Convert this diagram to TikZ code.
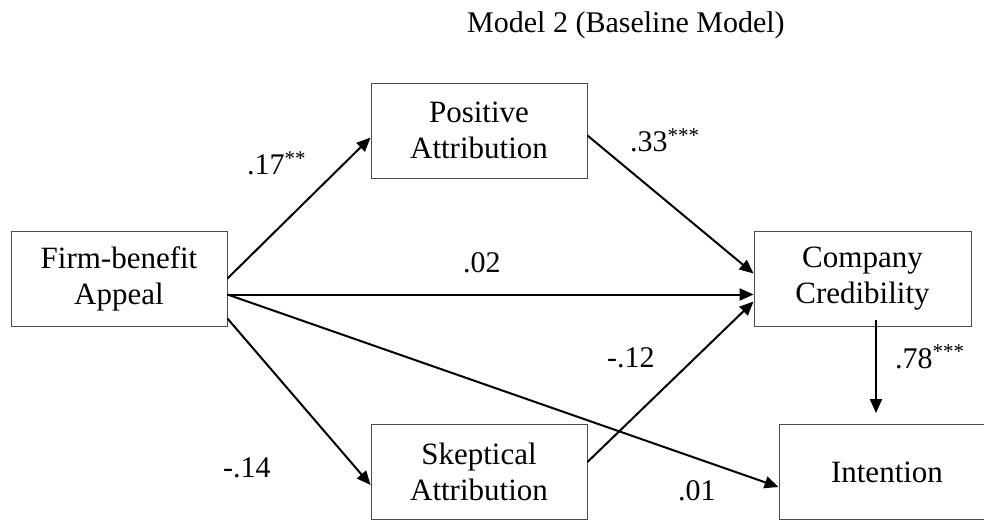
\documentclass[tikz,border=0pt]{standalone}
\usepackage{fontspec}
\setmainfont{Liberation Serif}
\usetikzlibrary{arrows.meta}
\tikzset{
  varbox/.style={draw=black!70, line width=0.9pt, minimum width=216pt, minimum height=95pt,
    inner sep=0pt, align=center, font=\fontsize{31}{36}\selectfont},
  effect/.style={-{Triangle[length=14pt,width=12pt]}, line width=2pt},
  coef/.style={anchor=base west, inner sep=0pt, font=\fontsize{30}{34}\selectfont}
}
\begin{document}
\begin{tikzpicture}[x=1pt, y=-1pt]
  \useasboundingbox (0,0) rectangle (984,521);
  \clip (0,0) rectangle (984,521);
  % Title
  \node[coef] (title) at (467,33) {Model 2 (Baseline Model)};
  % Variables
  \node[varbox] (firm)   at (119,278.5)   {Firm-benefit\\Appeal};
  \node[varbox] (pos)    at (479,130.5)   {Positive\\Attribution};
  \node[varbox] (skep)   at (479,472)     {Skeptical\\Attribution};
  \node[varbox, minimum width=217pt] (cred) at (862.5,278.5) {Company\\Credibility};
  \node[varbox] (intent) at (887,472)     {Intention};
  % Paths
  \draw[effect] (firm.east) -- ([yshift=-7pt]pos.west);
  \draw[effect] ([yshift=-16pt]firm.east) -- ([yshift=-16pt]cred.west);
  \draw[effect] ([yshift=-16pt]firm.east) -- ([yshift=-15pt]intent.west);
  \draw[effect] ([yshift=-40pt]firm.east) -- ([yshift=-13pt]skep.west);
  \draw[effect] ([yshift=-5pt]pos.east) -- ([yshift=5pt]cred.west);
  \draw[effect] ([yshift=10pt]skep.east) -- ([yshift=-23pt]cred.west);
  \draw[effect, shorten >=11pt] ([xshift=13.5pt,yshift=6pt]cred.south) -- ([xshift=-11pt]intent.north);
  % Coefficients
  \node[coef] (c17) at (247,175) {.17\textsuperscript{**}};
  \node[coef] (c33) at (630,152) {.33\textsuperscript{***}};
  \node[coef] (c02) at (463,272) {.02};
  \node[coef] (c12) at (607,367) {-.12};
  \node[coef] (c14) at (223,477) {-.14};
  \node[coef] (c01) at (678,500) {.01};
  \node[coef] (c78) at (895,368) {.78\textsuperscript{***}};
\end{tikzpicture}
\end{document}
